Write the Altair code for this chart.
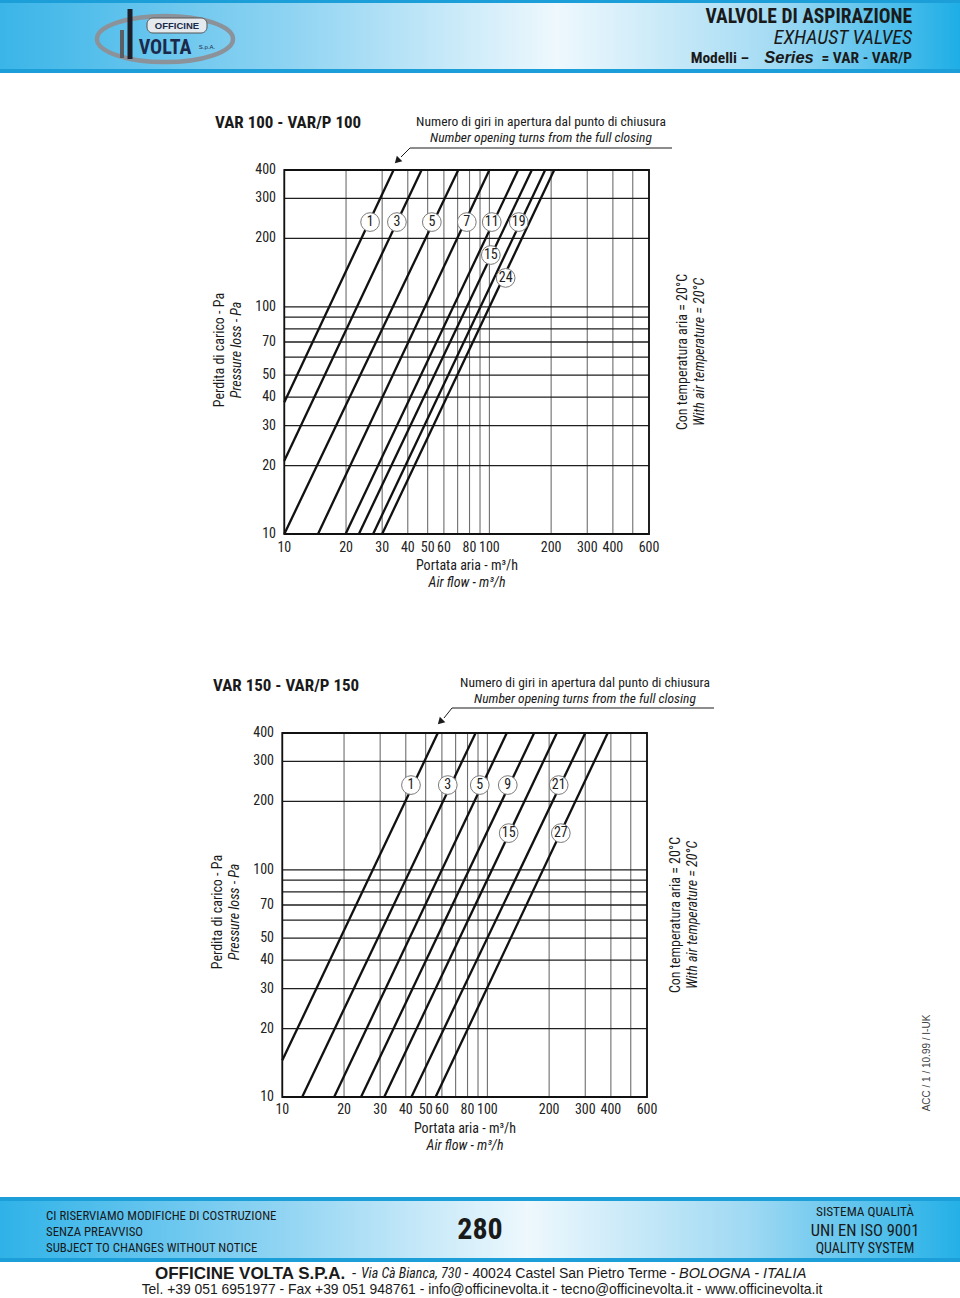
import altair as alt
import pandas as pd

# ---------------- data ----------------
X_GRID = [10, 20, 30, 40, 50, 60, 70, 80, 90, 100, 200, 300, 400, 500, 600]
Y_GRID = [10, 20, 30, 40, 50, 60, 70, 80, 90, 100, 200, 300, 400]
X_TICK_LABELS = [10, 20, 30, 40, 50, 60, 80, 100, 200, 300, 400, 600]
Y_TICK_LABELS = [10, 20, 30, 40, 50, 70, 100, 200, 300, 400]

# VAR 100 - VAR/P 100 : opening turns, line start (flow, pressure) and end
V100_TURNS = [1, 3, 5, 7, 11, 15, 19, 24]
V100_Q_START = [10, 10, 10, 14.6, 19.9, 23.1, 27.1, 30.0]
V100_P_START = [38, 21, 10, 10, 10, 10, 10, 10]
V100_Q_END = [34.1, 46.7, 70.5, 100, 138, 161, 187, 207]
V100_P_END = [400, 400, 400, 400, 400, 400, 400, 400]
V100_LABEL_Q = [26.2, 35.4, 52.4, 77.6, 102.7, 101.6, 139, 120]
V100_LABEL_P = [236, 236, 236, 236, 236, 169, 236, 134]

# VAR 150 - VAR/P 150
V150_TURNS = [1, 3, 5, 9, 15, 21, 27]
V150_Q_START = [10, 12.5, 17.9, 24.2, 31.4, 42.6, 55.9]
V150_P_START = [14.5, 10, 10, 10, 10, 10, 10]
V150_Q_END = [57.3, 87.6, 124.3, 169, 218, 300, 386]
V150_P_END = [400, 400, 400, 400, 400, 400, 400]
V150_LABEL_Q = [42.4, 64.1, 91.8, 125.7, 127, 222.7, 228]
V150_LABEL_P = [236, 236, 236, 236, 145, 236, 145]

NARROW = "Liberation Sans Narrow, Arial Narrow, Roboto Condensed, DejaVu Sans Condensed, Liberation Sans, sans-serif"
SANS = "Liberation Sans, Arial, Helvetica, sans-serif"
INK = "#1a1a1a"

one = pd.DataFrame({"k": [0]})


def text(s, x, y, size, font=NARROW, weight="normal", style="normal",
         align="center", angle=0, color=INK, baseline="middle"):
    return alt.Chart(one).mark_text(
        text=s, font=font, fontSize=size, fontWeight=weight, fontStyle=style,
        align=align, baseline=baseline, angle=angle, color=color
    ).encode(x=alt.value(x), y=alt.value(y))


def seg(x1, y1, x2, y2, color=INK, w=1.2):
    return alt.Chart(one).mark_rule(color=color, strokeWidth=w).encode(
        x=alt.value(x1), y=alt.value(y1), x2=alt.value(x2), y2=alt.value(y2))


def box(x1, y1, x2, y2, fill, **kw):
    return alt.Chart(one).mark_rect(fill=fill, **kw).encode(
        x=alt.value(x1), x2=alt.value(x2), y=alt.value(y1), y2=alt.value(y2))


def grad(stops):
    return alt.LinearGradient(
        gradient="linear",
        stops=[alt.GradientStop(color=c, offset=o) for o, c in stops],
        x1=0, x2=1, y1=0, y2=0)


def panel(turns, qs, ps, qe, pe, lq, lp, xr, yr, xlab_y, ylab_x):
    xs = alt.Scale(type="log", domain=[10, 600], range=xr)
    ys = alt.Scale(type="log", domain=[10, 400], range=yr)

    def X(f):
        return alt.X(f, type="quantitative", scale=xs, axis=None)

    def Y(f):
        return alt.Y(f, type="quantitative", scale=ys, axis=None)

    vg = pd.DataFrame({"q": X_GRID, "plo": 10, "phi": 400})
    hg = pd.DataFrame({"p": Y_GRID, "qlo": 10, "qhi": 600})
    frame = pd.DataFrame({"qlo": [10], "qhi": [600], "plo": [10], "phi": [400]})
    layers = [
        alt.Chart(vg).mark_rule(color="#6e6e6e", strokeWidth=1.1).encode(
            x=X("q"), y=Y("plo"), y2="phi"),
        alt.Chart(hg).mark_rule(color="#1e1e1e", strokeWidth=1.3).encode(
            y=Y("p"), x=X("qlo"), x2="qhi"),
        alt.Chart(frame).mark_rect(fillOpacity=0, stroke="#111111", strokeWidth=1.8).encode(
            x=X("qlo"), x2="qhi", y=Y("plo"), y2="phi"),
    ]
    rows = []
    for t, a, b, c, d in zip(turns, qs, ps, qe, pe):
        rows.append({"turns": t, "q": a, "p": b})
        rows.append({"turns": t, "q": c, "p": d})
    layers.append(
        alt.Chart(pd.DataFrame(rows)).mark_line(color="#111111", strokeWidth=2.3).encode(
            x=X("q"), y=Y("p"), detail="turns:N", order="q:Q"))
    lab = pd.DataFrame({"turns": [str(t) for t in turns], "q": lq, "p": lp})
    layers.append(
        alt.Chart(lab).mark_point(shape="circle", filled=True, fill="white", stroke="#7a7a7a",
                                  strokeWidth=1, size=350, opacity=1).encode(x=X("q"), y=Y("p")))
    layers.append(
        alt.Chart(lab).mark_text(font=NARROW, fontSize=14, color="#222222").encode(
            x=X("q"), y=Y("p"), text="turns:N"))
    xt = pd.DataFrame({"q": X_TICK_LABELS})
    layers.append(
        alt.Chart(xt).mark_text(font=NARROW, fontSize=14, color="#222222").encode(
            x=X("q"), y=alt.value(xlab_y), text="q:Q"))
    yt = pd.DataFrame({"p": Y_TICK_LABELS})
    layers.append(
        alt.Chart(yt).mark_text(font=NARROW, fontSize=14, color="#222222", align="right").encode(
            y=Y("p"), x=alt.value(ylab_x), text="p:Q"))
    return layers


def decorations(title, tx, ty, ax, ay, lead, xt, yt, rt):
    lx1, ly, lx2, tipx, tipy = lead
    return [
        text(title, tx, ty, 17, weight="bold", align="left"),
        text("Numero di giri in apertura dal punto di chiusura", ax, ay, 13.5),
        text("Number opening turns from the full closing", ax, ay + 16, 13.5, style="italic"),
        seg(lx1, ly, lx2, ly, w=1),
        seg(lx1, ly, tipx + 3, tipy - 3, w=1),
        alt.Chart(one).mark_point(shape="triangle", filled=True, color=INK, size=60, opacity=1,
                                  angle=225).encode(x=alt.value(tipx), y=alt.value(tipy)),
        text("Portata aria - m³/h", xt[0], xt[1], 14),
        text("Air flow - m³/h", xt[0], xt[1] + 17, 14, style="italic"),
        text("Perdita di carico - Pa", yt[0], yt[1], 14, angle=270),
        text("Pressure loss - Pa", yt[0] + 17, yt[1], 14, style="italic", angle=270),
        text("Con temperatura aria = 20°C", rt[0], rt[1], 14, angle=270),
        text("With air temperature = 20°C", rt[0] + 17, rt[1], 14, style="italic", angle=270),
    ]


layers = []

# ---------------- header ----------------
layers += [
    box(0, 0, 960, 73, "#1c9fd9"),
    box(0, 3, 960, 69, grad([(0, "#3ab5e8"), (0.3, "#8ed3f2"), (0.58, "#eef8fd"),
                             (0.8, "#a6dcf4"), (1, "#1eaee6")])),
    alt.Chart(one).mark_point(shape="M -1 0 A 1 0.34 0 1 0 1 0 A 1 0.34 0 1 0 -1 0 Z",
                              size=136 ** 2, filled=False, stroke="#8c9299", strokeWidth=4.5,
                              opacity=1).encode(x=alt.value(165), y=alt.value(39)),
    seg(130, 9, 130, 59, color="#1b1f2a", w=5),
    seg(122, 30, 122, 58, color="#5a5f66", w=4),
    box(147, 18, 207, 33, "#e4e9ee", stroke="#555555", strokeWidth=1, cornerRadius=6),
    text("OFFICINE", 177, 25.5, 9.5, font=SANS, weight="bold", color="#1b2a4a"),
    text("VOLTA", 165, 48, 20, weight="bold", color="#1b2a4a"),
    text("S.p.A.", 207, 47, 6, font=SANS, color="#1b2a4a"),
    text("VALVOLE DI ASPIRAZIONE", 912, 16.5, 19.5, weight="bold", align="right"),
    text("EXHAUST VALVES", 912, 38, 20, style="italic", align="right"),
    text("= VAR - VAR/P", 912, 57.5, 15.5, weight="bold", align="right"),
    text("Series", 789, 57.5, 16.5, font=SANS, weight="bold", style="italic"),
    text("Modelli –", 749, 57.5, 15.5, weight="bold", align="right"),
]

# ---------------- chart 1 ----------------
layers += panel(V100_TURNS, V100_Q_START, V100_P_START, V100_Q_END, V100_P_END,
                V100_LABEL_Q, V100_LABEL_P, [284.3, 649], [534, 170], 548, 276)
layers += decorations("VAR 100 - VAR/P 100", 215, 123, 541, 122,
                      (410, 148, 672, 398, 160), (467, 566), (220, 350), (683, 352))

# ---------------- chart 2 ----------------
layers += panel(V150_TURNS, V150_Q_START, V150_P_START, V150_Q_END, V150_P_END,
                V150_LABEL_Q, V150_LABEL_P, [282.3, 647], [1097, 733], 1110, 274)
layers += decorations("VAR 150 - VAR/P 150", 213, 686, 585, 683,
                      (452, 708, 714, 441, 721), (465, 1129), (218, 912), (676, 915))

layers.append(text("ACC / 1 / 10.99 / I-UK", 927, 1063, 10, font=SANS, angle=270, color="#444444"))

# ---------------- footer ----------------
layers += [
    box(0, 1197, 960, 1262, "#1c9fd9"),
    box(0, 1201, 960, 1258, grad([(0, "#2fb2e8"), (0.3, "#93d5f3"), (0.55, "#eef8fd"),
                                  (0.78, "#9fd9f3"), (1, "#24b0e7")])),
    text("CI RISERVIAMO MODIFICHE DI COSTRUZIONE", 46, 1216, 12.8, align="left"),
    text("SENZA PREAVVISO", 46, 1232, 12.8, align="left"),
    text("SUBJECT TO CHANGES WITHOUT NOTICE", 46, 1248, 12.8, align="left"),
    text("280", 480, 1230, 30, weight="bold"),
    text("SISTEMA QUALITÀ", 865, 1212, 13.3),
    text("UNI EN ISO 9001", 865, 1231, 16.5),
    text("QUALITY SYSTEM", 865, 1249, 14),
    text("OFFICINE VOLTA S.P.A.", 155, 1274, 17, font=SANS, weight="bold", align="left"),
    text("-", 354, 1274, 14, font=SANS),
    text("Via Cà Bianca, 730", 361, 1274, 14, style="italic", align="left"),
    text("- 40024 Castel San Pietro Terme -", 464, 1274, 14, font=SANS, align="left"),
    text("BOLOGNA - ITALIA", 679, 1274, 14.5, font=SANS, style="italic", align="left"),
    text("Tel. +39 051 6951977 - Fax +39 051 948761 - info@officinevolta.it - "
         "tecno@officinevolta.it - www.officinevolta.it", 482, 1290, 13.9, font=SANS),
]

chart = alt.layer(*layers).resolve_scale(
    x="independent", y="independent"
).properties(
    width=960, height=1298, autosize=alt.AutoSizeParams(type="none"), padding=0,
    background="white"
).configure_view(strokeWidth=0)

chart.save("out.html", embed_options={"renderer": "svg", "actions": False})
